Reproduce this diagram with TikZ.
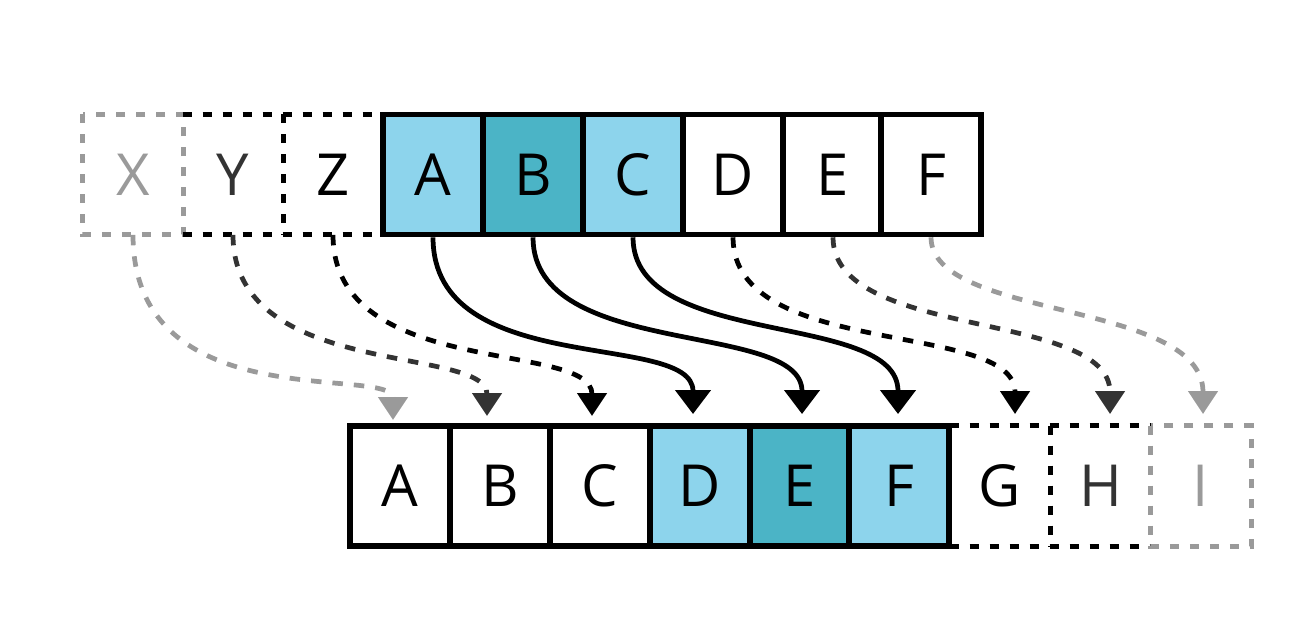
\documentclass[tikz,border=0pt]{standalone}
\usepackage{fontspec}
\setmainfont{Open Sans}
\usetikzlibrary{arrows.meta}
\definecolor{lblue}{HTML}{8DD4EC}
\definecolor{dblue}{HTML}{4BB4C6}
\definecolor{lgray}{HTML}{9A9A9A}
\definecolor{dgray}{HTML}{333333}
\begin{document}
\begin{tikzpicture}[x=0.02cm,y=-0.02cm,
  cell/.style={minimum width=2cm,minimum height=2.4cm,inner sep=0pt,font=\fontsize{33}{36}\selectfont},
  solidcell/.style={cell,draw=black,line width=3.2pt},
  bdash/.style={line width=3pt,dash pattern=on 0.18cm off 0.22cm},
  conn/.style={line width=2.7pt},
  solidarrow/.style={conn,-{Triangle[length=0.48cm,width=0.7cm]}},
  dasharrow/.style={conn,dash pattern=on 0.21cm off 0.22cm,-{Triangle[length=0.46cm,width=0.58cm]}},
]
\useasboundingbox (0,0) rectangle (1300,637);

% ---------- top row ----------
\node[cell,text=lgray] (tX) at (133,174.5) {X};
\node[cell,text=dgray] (tY) at (233,174.5) {Y};
\node[cell] (tZ) at (333,174.5) {Z};
\draw[bdash,lgray] (tX.north west) rectangle (tX.south east);
\draw[bdash] (tY.north west) -- (tZ.north east);
\draw[bdash] (tY.south west) -- (tZ.south east);
\draw[bdash] (tY.north east) -- (tY.south east);
\node[solidcell,fill=lblue] (tA) at (433,174.5) {A};
\node[solidcell,fill=dblue] (tB) at (533,174.5) {B};
\node[solidcell,fill=lblue] (tC) at (633,174.5) {C};
\node[solidcell,fill=white] (tD) at (733,174.5) {D};
\node[solidcell,fill=white] (tE) at (833,174.5) {E};
\node[solidcell,fill=white] (tF) at (931,174.5) {F};

% ---------- bottom row ----------
\node[solidcell,fill=white] (bA) at (400,486) {A};
\node[solidcell,fill=white] (bB) at (500,486) {B};
\node[solidcell,fill=white] (bC) at (600,486) {C};
\node[solidcell,fill=lblue] (bD) at (700,486) {D};
\node[solidcell,fill=dblue] (bE) at (800,486) {E};
\node[solidcell,fill=lblue] (bF) at (899,486) {F};
\node[cell] (bG) at (1000,486) {G};
\node[cell,text=dgray] (bH) at (1101,486) {H};
\node[cell,text=lgray] (bI) at (1201,486) {I};
\draw[bdash] (bG.north west) -- (bH.north east);
\draw[bdash] (bG.south west) -- (bH.south east);
\draw[bdash] (bG.north east) -- (bG.south east);
\draw[bdash,lgray] (bI.north west) rectangle (bI.south east);

% ---------- arrow targets ----------
\coordinate (eX) at (393,420);
\coordinate (eY) at (487,416);
\coordinate (eZ) at (592,416);
\coordinate (eA) at (693,414);
\coordinate (eB) at (802,414);
\coordinate (eC) at (898,414);
\coordinate (eD) at (1015,414);
\coordinate (eE) at (1110,414);
\coordinate (eF) at (1203,414);

% ---------- connectors ----------
\draw[dasharrow,lgray] (tX.south) .. controls (133,420) and (393,365) .. (eX);
\draw[dasharrow,dgray] (tY.south) .. controls (233,380) and (487,345) .. (eY);
\draw[dasharrow,black] (tZ.south) .. controls (333,380) and (592,340) .. (eZ);
\draw[solidarrow] (tA.south) .. controls (433,380) and (693,330) .. (eA);
\draw[solidarrow] (tB.south) .. controls (533,360) and (802,320) .. (eB);
\draw[solidarrow] (tC.south) .. controls (633,350) and (898,310) .. (eC);
\draw[dasharrow,black] (tD.south) .. controls (733,360) and (1015,320) .. (eD);
\draw[dasharrow,dgray] (tE.south) .. controls (833,340) and (1110,310) .. (eE);
\draw[dasharrow,lgray] (tF.south) .. controls (931,320) and (1203,300) .. (eF);
\end{tikzpicture}
\end{document}
